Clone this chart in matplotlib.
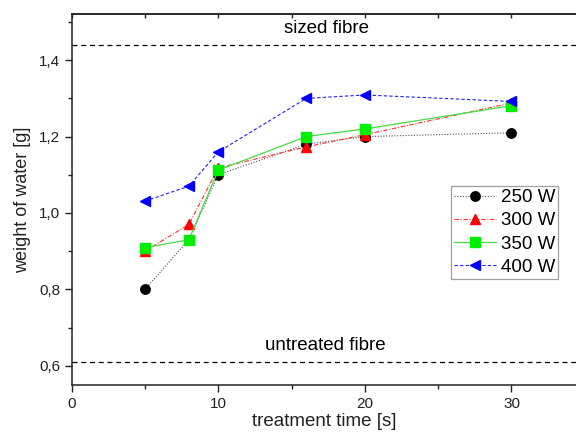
import matplotlib
matplotlib.use("Agg")
import matplotlib.pyplot as plt
from matplotlib.ticker import FuncFormatter, MultipleLocator

times = [5, 8, 10, 16, 20, 30]
w250 = [0.80, 0.93, 1.10, 1.18, 1.20, 1.21]
w300 = [0.90, 0.97, 1.118, 1.173, 1.205, 1.288]
w350 = [0.909, 0.93, 1.112, 1.20, 1.22, 1.281]
w400 = [1.031, 1.07, 1.16, 1.30, 1.309, 1.292]
labels = ["250 W", "300 W", "350 W", "400 W"]
sized_level = 1.44
untreated_level = 0.61

plt.rcParams['font.family'] = ['Liberation Sans', 'DejaVu Sans']

fig = plt.figure(figsize=(5.76, 4.37), dpi=100)
ax = fig.add_axes([0.1243, 0.119, 0.8757, 0.849])

ax.plot(times, w250, color='#505050', ls=(0, (1, 1.5)), lw=0.8, marker='o', ms=6.8,
        mfc='black', mec='black', label=labels[0])
ax.plot(times, w300, color='#ff3030', ls=(0, (4, 1.5, 1, 1.5)), lw=0.8, marker='^', ms=7.5,
        mfc='red', mec='red', label=labels[1])
ax.plot(times, w350, color='#44dd44', ls='-', lw=0.9, marker='s', ms=6.5,
        mfc='#00ee00', mec='#00ee00', label=labels[2])
ax.plot(times, w400, color='#2020ff', ls=(0, (3, 2)), lw=0.8, marker='<', ms=7.8,
        mfc='blue', mec='blue', label=labels[3])

ax.axhline(sized_level, color='black', ls=(0, (4, 3)), lw=0.9)
ax.axhline(untreated_level, color='black', ls=(0, (4, 3)), lw=0.9)
ax.text(17.4, 1.482, "sized fibre", ha='center', va='center', fontsize=13.5)
ax.text(17.3, 0.654, "untreated fibre", ha='center', va='center', fontsize=13.5)

ax.set_xlim(0, 34.4)
ax.set_ylim(0.5496, 1.521)
ax.xaxis.set_major_locator(MultipleLocator(10))
ax.xaxis.set_minor_locator(MultipleLocator(5))
ax.yaxis.set_major_locator(MultipleLocator(0.2))
ax.yaxis.set_minor_locator(MultipleLocator(0.1))
ax.yaxis.set_major_formatter(FuncFormatter(lambda v, p: f"{v:.1f}".replace('.', ',')))

ax.spines['right'].set_visible(False)
for s in ['left', 'bottom', 'top']:
    ax.spines[s].set_linewidth(1.1)
    ax.spines[s].set_color('#222222')
ax.tick_params(axis='both', which='major', direction='out', length=4.8, width=1, labelsize=11,
               pad=3.5, colors='#222222', labelcolor='#222222')
ax.tick_params(axis='both', which='minor', direction='out', length=2.9, width=1, colors='#222222')

top = ax.secondary_xaxis('top')
top.xaxis.set_major_locator(MultipleLocator(5))
top.tick_params(axis='x', which='major', direction='in', length=2.6, width=1,
                labeltop=False, colors='#222222')
top.xaxis.set_minor_locator(MultipleLocator(100))
top.spines['top'].set_linewidth(1.1)
top.spines['top'].set_color('#222222')

ax.set_xlabel("treatment time [s]", fontsize=13.5, labelpad=2, color='#222222')
ax.set_ylabel("weight of water [g]", fontsize=13, labelpad=6, color='#222222')

leg = ax.legend(loc='upper left', bbox_to_anchor=(0.752, 0.536), fontsize=13.5,
                frameon=True, fancybox=False, edgecolor='#888888', handlelength=2.25,
                handletextpad=0.25, borderpad=0.15, labelspacing=0.33, borderaxespad=0)
leg.get_frame().set_linewidth(0.9)

fig.savefig("out.png", dpi=100)
